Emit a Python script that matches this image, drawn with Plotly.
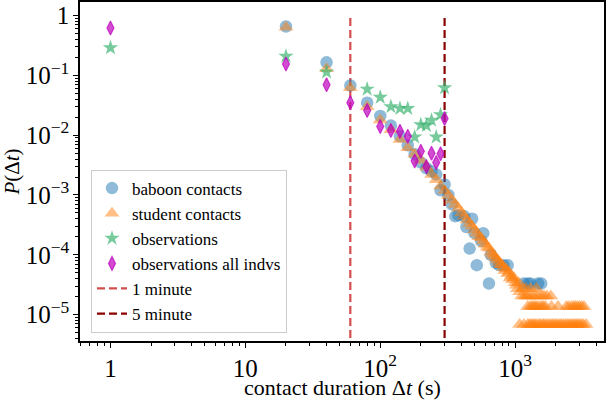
import plotly.graph_objects as go

# baboon contacts
bab_x = [20, 40, 60, 80, 100, 120, 140, 160, 180, 200, 220, 240, 260, 280, 300,
         320, 340, 360, 380, 420, 435, 460, 480, 500, 520, 560, 580, 640, 660,
         720, 760, 820, 880, 1160, 1240, 1300, 1480, 1560]
bab_y = [0.66, 0.166, 0.068, 0.035, 0.021, 0.0145, 0.0096, 0.0068, 0.0048, 0.0035,
         0.0028, 0.0025, 0.0022, 0.0012, 0.0015, 0.001, 7.0e-4, 4.4e-4, 4.6e-4,
         4.4e-4, 2.9e-4, 1.27e-4, 4.0e-4, 2.3e-4, 6.7e-5, 1.7e-4, 2.3e-4, 3.3e-5,
         1.0e-4, 7.3e-5, 6.7e-5, 6.7e-5, 6.7e-5, 3.3e-5, 3.3e-5, 3.3e-5, 3.3e-5, 3.3e-5]

# student contacts, main part
stu_x = [20, 40, 60, 80, 100, 120, 140, 160, 180, 200, 220, 240, 260, 280, 300,
         320, 340, 360, 380, 400, 420, 440, 460, 480, 500, 520, 540, 560, 580, 600,
         620, 640, 660, 680, 700, 720, 740, 760, 780, 800, 820, 840, 860, 880, 900,
         920, 940, 960, 980, 1000, 1020, 1040, 1060, 1080]
stu_y = [0.64, 0.13, 0.062, 0.030, 0.018, 0.0123, 0.0085, 0.0062, 0.0048, 0.0038,
         0.0029, 0.0022, 0.0018, 0.0014, 0.00118, 0.00098, 0.00082, 0.00069, 0.00060,
         0.00050, 0.00044, 0.00038, 0.00033, 0.00030, 0.00026, 0.00023, 0.00020,
         0.00019, 0.00017, 0.000150, 0.000135, 0.000128, 0.000110, 0.000102,
         0.000095, 0.000088, 0.000082, 0.000075, 0.000068, 0.000068, 0.000061,
         0.000054, 0.000058, 0.000048, 0.000051, 0.000041, 0.000044, 0.000038,
         0.000041, 0.000034, 0.000031, 0.000027, 0.000034, 0.000024]
# student contacts, tail (few counts per duration)
stu_tail_levels = [6.8e-6, 1.36e-5, 2.04e-5, 2.72e-5]
stu_tail_x1 = [1080, 1160, 1240, 1280, 1320, 1360, 1400, 1440, 1500, 1540, 1600, 1640,
               1700, 1760, 1820, 1880, 1940, 2000, 2060, 2140, 2200, 2280, 2360, 2440,
               2520, 2600, 2680, 2760, 2840, 2920, 3000, 3100, 3200, 3360]
stu_tail_x2 = [1240, 1300, 1340, 1380, 1420, 1460, 1520, 1580, 1620, 1680, 1860, 2080,
               2400, 2500, 2620, 2720, 2800, 2900, 3000, 3120, 3240]
stu_tail_x3 = [1120, 1180, 1220, 1260, 1340, 1400, 1480, 1560, 1640, 1720, 1840]
stu_tail_x4 = [1140, 1200, 1300, 1440]

# observations
obs_x = [1, 20, 40, 80, 100, 120, 140, 160, 180, 200, 220, 240, 260, 280, 300]
obs_y = [0.29, 0.21, 0.114, 0.059, 0.043, 0.030, 0.028, 0.028, 0.0093, 0.015,
         0.0145, 0.0178, 0.0093, 0.022, 0.062]

# observations all indvs
all_x = [1, 20, 40, 60, 80, 100, 120, 140, 160, 180, 200, 220, 240, 260, 280, 300]
all_y = [0.62, 0.155, 0.07, 0.035, 0.026, 0.014, 0.012, 0.0116, 0.0096, 0.0037,
         0.0054, 0.003, 0.005, 0.0035, 0.0049, 0.019]

minute_lines = [(60, "1 minute", "#d24e4e"), (300, "5 minute", "#8b0000")]

FONT = "Liberation Serif"

# tail built from the per-level lists
tail_x, tail_y = [], []
for lvl, xs in zip(stu_tail_levels, [stu_tail_x1, stu_tail_x2, stu_tail_x3, stu_tail_x4]):
    tail_x += xs
    tail_y += [lvl] * len(xs)

fig = go.Figure()

for xv, name, col in minute_lines:
    fig.add_trace(go.Scatter(
        x=[xv, xv], y=[1e-7, 1], mode="lines", name=name,
        line=dict(color=col, width=2.2, dash="8px,4px"),
        legendrank=10 if xv == 60 else 11,
    ))

fig.add_trace(go.Scatter(
    x=bab_x, y=bab_y, mode="markers", name="baboon contacts", legendrank=1,
    marker=dict(symbol="circle", size=12.5, color="rgba(31,119,180,0.5)"),
))
fig.add_trace(go.Scatter(
    x=stu_x + tail_x, y=stu_y + tail_y, mode="markers", name="student contacts",
    legendrank=2,
    marker=dict(symbol="triangle-up", size=13, color="rgba(255,127,14,0.5)"),
))
fig.add_trace(go.Scatter(
    x=obs_x, y=obs_y, mode="markers", name="observations", legendrank=3,
    marker=dict(symbol="star", size=11.5, color="rgba(60,179,113,0.7)"),
))
fig.add_trace(go.Scatter(
    x=all_x, y=all_y, mode="markers", name="observations all indvs", legendrank=4,
    marker=dict(symbol="diamond-tall", size=10, color="rgba(191,0,191,0.7)",
                line=dict(width=1.2, color="rgba(191,0,191,0.7)")),
))

axis_common = dict(
    type="log", dtick=1, exponentformat="power", automargin=False,
    showgrid=False, zeroline=False,
    showline=True, linecolor="black", linewidth=1.5, mirror=True,
    ticks="outside", ticklen=5, tickwidth=1.2, tickcolor="black",
    minor=dict(ticks="outside", ticklen=3, tickwidth=1, tickcolor="black", showgrid=False),
    tickfont=dict(family=FONT, size=20, color="black"),
)
fig.update_xaxes(**axis_common, range=[-0.226, 3.659])
fig.update_yaxes(
    **axis_common, range=[-5.443, 0.229],
    title=dict(text="<i>P</i>(Δ<i>t</i>)", standoff=6,
               font=dict(family=FONT, size=21, color="black")),
)

# x title as an annotation so it can sit closer to the tick labels
fig.add_annotation(
    text="contact duration Δ<i>t</i> (s)", xref="paper", yref="paper",
    x=0.5, y=-0.137, xanchor="center", yanchor="middle", showarrow=False,
    font=dict(family=FONT, size=22, color="black"),
)

fig.update_layout(
    width=608, height=411,
    margin=dict(l=80, r=4, t=2, b=70),
    plot_bgcolor="white", paper_bgcolor="white",
    font=dict(family=FONT, color="black"),
    legend=dict(
        x=0.021, y=0.025, xanchor="left", yanchor="bottom",
        bgcolor="rgba(255,255,255,0.8)", bordercolor="#cccccc", borderwidth=1,
        font=dict(family=FONT, size=17, color="black"),
        tracegroupgap=0,
    ),
)

# the page has a default 8px body margin; remove it so the figure fills the window
fig.write_html("out.html", config={"displayModeBar": False},
               post_script="document.body.style.margin='0px';")
